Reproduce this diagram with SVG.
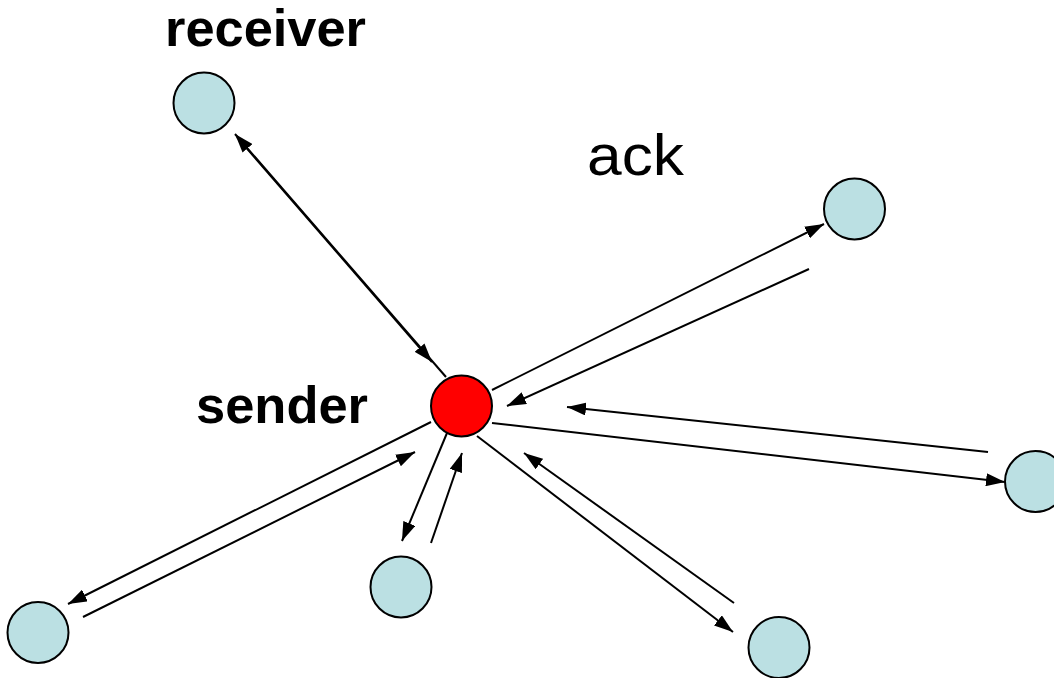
<svg xmlns="http://www.w3.org/2000/svg" width="1054" height="678" viewBox="0 0 1054 678">
  <style>
    .node { fill: #bbe0e3; stroke: #000; stroke-width: 2; }
    .src { fill: #ff0000; stroke: #000; stroke-width: 2; }
    .edge { stroke: #000; stroke-width: 2; fill: none; marker-end: url(#head); }
    .bold { font-family: "Liberation Sans", Arial, sans-serif; font-weight: bold; font-size: 52px; fill: #000; }
    .plain { font-family: "Liberation Sans", Arial, sans-serif; font-size: 58px; fill: #000; }
  </style>
  <defs>
    <marker id="head" markerUnits="userSpaceOnUse" markerWidth="19" markerHeight="13" refX="19" refY="6.5" orient="auto">
      <path d="M0,0 L19,6.5 L0,13 Z" fill="#000"/>
    </marker>
  </defs>

  <g id="connectors">
    <!-- sender <-> receiver -->
    <line class="edge" x1="446" y1="377" x2="235" y2="134"/>
    <line class="edge" x1="237" y1="137" x2="432" y2="362"/>
    <!-- top right -->
    <line class="edge" x1="492" y1="390" x2="824" y2="224"/>
    <line class="edge" x1="809" y1="269" x2="507" y2="406"/>
    <!-- right -->
    <line class="edge" x1="492" y1="423" x2="1005" y2="482"/>
    <line class="edge" x1="988" y1="452" x2="567" y2="407"/>
    <!-- bottom left -->
    <line class="edge" x1="431" y1="422" x2="68" y2="604"/>
    <line class="edge" x1="83" y1="617" x2="415" y2="452"/>
    <!-- bottom middle -->
    <line class="edge" x1="447" y1="433" x2="402" y2="541"/>
    <line class="edge" x1="431" y1="543" x2="462" y2="453"/>
    <!-- bottom right -->
    <line class="edge" x1="477" y1="436" x2="733" y2="632"/>
    <line class="edge" x1="734" y1="603" x2="524" y2="453"/>
  </g>

  <g id="receiver">
    <circle class="node" cx="204" cy="103" r="30.5"/>
    <text class="bold" x="165" y="46" textLength="201" lengthAdjust="spacingAndGlyphs">receiver</text>
  </g>
  <g id="sender">
    <circle class="src" cx="461.5" cy="406" r="30.5"/>
    <text class="bold" x="196" y="423" textLength="172" lengthAdjust="spacingAndGlyphs">sender</text>
  </g>
  <g id="ack-label">
    <text class="plain" x="587" y="175" textLength="97" lengthAdjust="spacingAndGlyphs">ack</text>
  </g>
  <g id="node-top-right">
    <circle class="node" cx="854.5" cy="209" r="30.5"/>
  </g>
  <g id="node-right">
    <circle class="node" cx="1035.5" cy="481.5" r="30.5"/>
  </g>
  <g id="node-bottom-left">
    <circle class="node" cx="38" cy="632.5" r="30.5"/>
  </g>
  <g id="node-bottom-middle">
    <circle class="node" cx="401" cy="587" r="30.5"/>
  </g>
  <g id="node-bottom-right">
    <circle class="node" cx="779" cy="647.5" r="30.5"/>
  </g>
</svg>
